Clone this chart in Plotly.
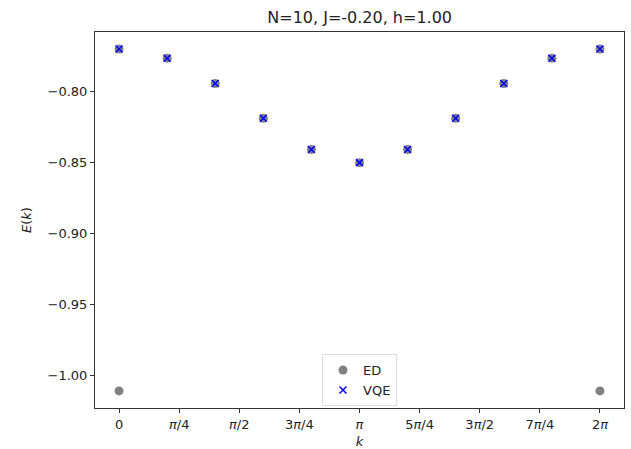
import numpy as np
import plotly.graph_objects as go

N = 10
k_vals = [2 * np.pi * n / N for n in range(N + 1)]
vqe_E = [-0.7704, -0.7768, -0.7946, -0.8190, -0.8410, -0.8502,
         -0.8410, -0.8190, -0.7946, -0.7768, -0.7704]
ed_k = k_vals + [0.0, 2 * np.pi]
ed_E = vqe_E + [-1.0106, -1.0106]

tick_vals = [i * np.pi / 4 for i in range(9)]
tick_text = ["0", "<i>π</i>/4", "<i>π</i>/2", "3<i>π</i>/4", "<i>π</i>",
             "5<i>π</i>/4", "3<i>π</i>/2", "7<i>π</i>/4", "2<i>π</i>"]
y_ticks = [-1.00, -0.95, -0.90, -0.85, -0.80]

fig = go.Figure()
fig.add_trace(go.Scatter(x=ed_k, y=ed_E, mode="markers", name="ED",
                         marker=dict(symbol="circle", size=9, color="gray")))
fig.add_trace(go.Scatter(x=k_vals, y=vqe_E, mode="markers", name="VQE",
                         marker=dict(symbol="x-thin", size=7, color="blue",
                                     line=dict(width=1.5, color="blue"))))

axis_common = dict(showgrid=False, zeroline=False, showline=True, linecolor="#333",
                   linewidth=1, mirror=True, ticks="outside", ticklen=4,
                   tickcolor="#333", tickfont=dict(size=13, color="#222"),
                   automargin=False)

fig.update_layout(
    width=631, height=449,
    margin=dict(l=95, r=7, t=32, b=41),
    paper_bgcolor="white", plot_bgcolor="white",
    font=dict(family="DejaVu Sans", color="#222"),
    title=dict(text="N=10, J=-0.20, h=1.00", x=0.57, xanchor="center",
               y=0.961, yanchor="middle", font=dict(size=16)),
    xaxis=dict(range=[-0.05 * 2 * np.pi, 1.05 * 2 * np.pi], tickvals=tick_vals,
               ticktext=tick_text,
               title=dict(text="<i>k</i>", font=dict(size=13), standoff=6),
               **axis_common),
    yaxis=dict(range=[-1.0226, -0.7584], tickvals=y_ticks,
               ticktext=["−1.00", "−0.95", "−0.90", "−0.85", "−0.80"],
               title=dict(text="<i>E</i>(<i>k</i>)", font=dict(size=13), standoff=13),
               **axis_common),
    legend=dict(x=0.5, xanchor="center", y=0.005, yanchor="bottom",
                bordercolor="#ddd", borderwidth=1, bgcolor="rgba(255,255,255,0.8)",
                font=dict(size=13), itemsizing="trace", tracegroupgap=0),
    showlegend=True,
)

fig.write_html("out.html", config={"displayModeBar": False},
               post_script="document.body.style.margin='0';")
